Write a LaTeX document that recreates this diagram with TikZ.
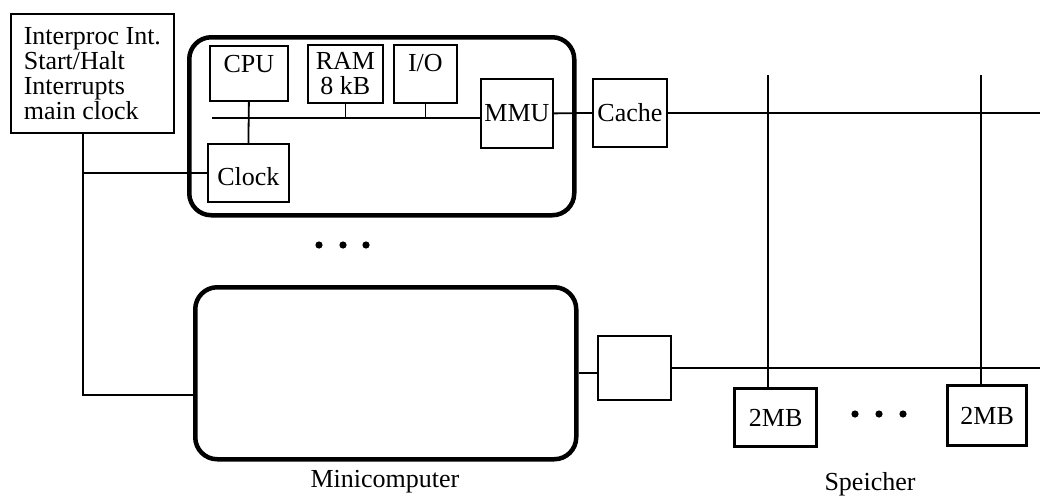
\documentclass[tikz,border=0pt]{standalone}
\usepackage{fontspec}
\setmainfont{Liberation Serif}
\usetikzlibrary{positioning, calc}

\begin{document}
\begin{tikzpicture}[x=1pt, y=-1pt, line width=1.8pt,
    font=\fontsize{26}{25}\selectfont,
    unit/.style={draw, line width=1.8pt, inner sep=0pt, anchor=north west},
    bank/.style={draw, line width=3.4pt, inner sep=0pt, anchor=north west},
    board/.style={draw, line width=4.5pt, rounded corners=22pt, inner sep=0pt, anchor=north west}]
  \useasboundingbox (0,0) rectangle (1040,498);

  % --- Control unit ---
  \node[unit, minimum width=163pt, minimum height=119pt, align=left, xshift=2pt] (ctrl) at (8,13)
    {Interproc Int.\\Start/Halt\\Interrupts\\main clock};

  % --- First minicomputer ---
  \node[board, minimum width=385pt, minimum height=178pt] (mini1) at (187,35) {};
  \node[unit, minimum width=78pt, text height=27pt, text depth=28pt] (cpu) at (209,45) {CPU};
  \node[unit, minimum width=75pt, minimum height=58pt, align=center] (ram) at (307,44) {RAM\\8 kB};
  \node[unit, minimum width=63pt, text height=27pt, text depth=31pt] (io) at (393,44) {I/O};
  \node[unit, minimum width=72pt, minimum height=69pt] (mmu) at (480,78) {MMU};
  \node[unit, minimum width=81pt, text height=42pt, text depth=16pt] (clock) at (207,143) {Clock};
  \node[unit, minimum width=74pt, minimum height=68pt] (cache) at (592,78) {Cache};

  % --- Further minicomputers ---
  \foreach \x in {319,343,366} \fill (\x,245) circle (3.6pt);
  \node[board, minimum width=381pt, minimum height=172pt] (mini2) at (193,285) {};
  \node[unit, minimum width=73pt, minimum height=64pt] (iface) at (597,335) {};
  \node[anchor=base] (minilabel) at (385,487) {Minicomputer};

  % --- Memory banks ---
  \node[bank, minimum width=82pt, minimum height=58pt] (mem1) at (733,387) {2MB};
  \node[bank, minimum width=79pt, minimum height=60pt] (mem2) at (946,384) {2MB};
  \foreach \x in {855,879,903} \fill (\x,414) circle (3.6pt);
  \node[anchor=base] (memlabel) at (870,490) {Speicher};

  % --- Connections ---
  \coordinate (tap) at (83,173);
  \coordinate (low) at (83,395);
  \draw (ctrl.south -| tap) -- (low) -- (low -| mini2.west);
  \draw (tap) -- (tap -| clock.west);
  \draw (cpu.south) -- (clock.north);
  \coordinate (busL) at (212,118);
  \draw (busL) -- (busL -| mmu.west);
  \draw (ram.south) -- (ram.south |- busL);
  \draw (io.south) -- (io.south |- busL);
  \draw (mmu.east) -- (cache.west);
  \coordinate (edgeA) at (1040,113);
  \draw (cache.east) -- (cache.east -| edgeA);
  \draw (mini2.east) -- (mini2.east -| iface.west);
  \coordinate (edgeB) at (1040,367);
  \draw (iface.east) -- (iface.east -| edgeB);
  \coordinate (tapA) at (768,75);
  \coordinate (tapB) at (981,75);
  \draw (tapA) -- (tapA |- mem1.north);
  \draw (tapB) -- (tapB |- mem2.north);
\end{tikzpicture}
\end{document}
